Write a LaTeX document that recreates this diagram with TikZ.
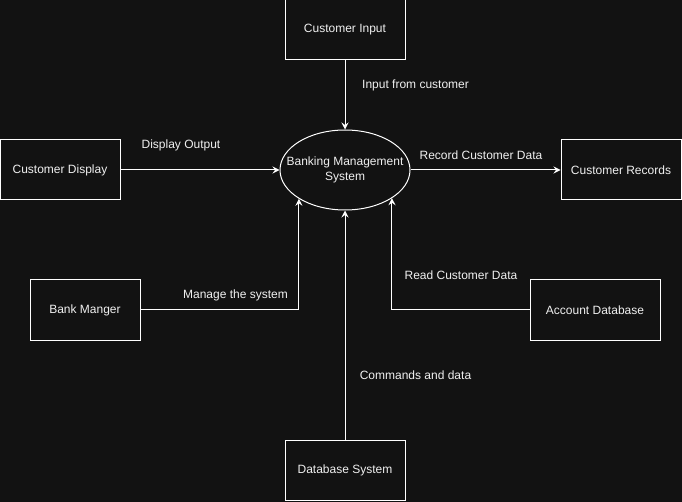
\documentclass[tikz,border=0pt]{standalone}
\usepackage{fontspec}
\setmainfont{Liberation Sans}
\usetikzlibrary{arrows.meta, shapes.geometric, calc}
\definecolor{dfdBg}{HTML}{121212}
\definecolor{dfdInk}{HTML}{F0F0F0}
\definecolor{dfdLine}{HTML}{FFFFFF}
\newcommand{\dfdfont}{\fontsize{12}{15}\selectfont}
\tikzset{
  dfdbox/.style={
    draw=dfdLine, fill=dfdBg, line width=1pt, minimum width=#1,
    minimum height=60pt, inner sep=0pt, text=dfdInk, font=\dfdfont,
  },
  dfdbox/.default=120pt,
  dfdproc/.style={
    ellipse, draw=dfdLine, fill=dfdBg, line width=1pt,
    minimum width=130pt, minimum height=80pt, inner sep=0pt,
  },
  dfdtext/.style={
    text=dfdInk, font=\dfdfont, align=center, inner sep=0pt,
  },
  dfdflow/.style={
    -{Stealth[length=7pt, width=7pt, inset=2.5pt]}, draw=dfdLine, line width=1pt,
  },
}

\begin{document}
\begin{tikzpicture}[x=1pt, y=-1pt]

\fill[dfdBg] (0,0) rectangle (682,502);
\useasboundingbox (0,0) rectangle (682,502);

% Entities and process ------------------------------------------------------
\node[dfdbox] (cin) at (345,30) {Customer Input};
\node[dfdbox] (cdisp) at (60,170) {Customer Display};
\node[dfdproc] (bms) at (345,170) {};
\node[dfdtext] (bmsname) at (bms.center) {Banking Management\\System};
\node[dfdbox] (crec) at (621,170) {Customer Records};
\node[dfdbox=110pt] (mgr) at (85,310) {Bank Manger};
\node[dfdbox=130pt] (acct) at (595,310) {Account Database};
\node[dfdbox] (dbsys) at (345,470) {Database System};

% Flows ---------------------------------------------------------------------
\foreach \a/\b in {cin/bms, cdisp/bms, bms/crec, dbsys/bms}{%
  \draw[dfdflow] (\a) -- (\b);
}
\draw[dfdflow] (mgr.east) -| (bms.212.8);
\draw[dfdflow] (acct.west) -| (bms.-31.6);

% Flow labels ---------------------------------------------------------------
\node[dfdtext, anchor=west] (lInput) at (362,85) {Input from customer};
\node[dfdtext] (lDisplay) at (181,145) {Display Output};
\node[dfdtext] (lRecord) at (481,155) {Record Customer Data};
\node[dfdtext] (lManage) at (235.5,295) {Manage the system};
\node[dfdtext] (lRead) at (461,275) {Read Customer Data};
\node[dfdtext] (lCmd) at (415.5,375) {Commands and data};

\end{tikzpicture}
\end{document}
